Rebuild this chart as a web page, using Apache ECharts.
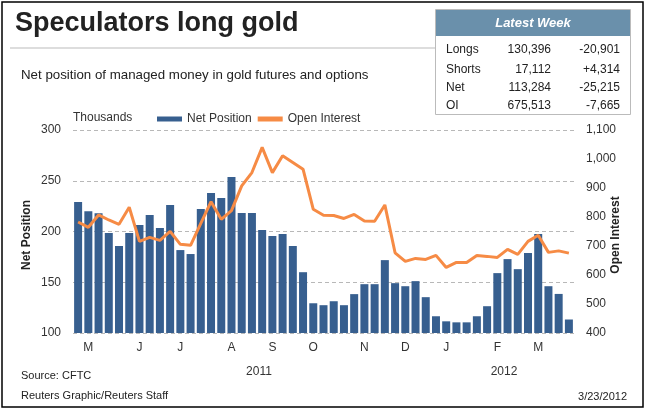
<!DOCTYPE html>
<html><head><meta charset="utf-8">
<script src="https://cdn.jsdelivr.net/npm/echarts@6/dist/echarts.min.js"></script>
<style>html,body{margin:0;padding:0;background:#fff}#c{width:645px;height:409px}</style>
</head><body><div id="c"></div>
<script>
// ---- data ----
const weeks = ['2011-04-19','2011-04-26','2011-05-03','2011-05-10','2011-05-17','2011-05-24','2011-05-31','2011-06-07','2011-06-14','2011-06-21','2011-06-28','2011-07-05','2011-07-12','2011-07-19','2011-07-26','2011-08-02','2011-08-09','2011-08-16','2011-08-23','2011-08-30','2011-09-06','2011-09-13','2011-09-20','2011-09-27','2011-10-04','2011-10-11','2011-10-18','2011-10-25','2011-11-01','2011-11-08','2011-11-15','2011-11-22','2011-11-29','2011-12-06','2011-12-13','2011-12-20','2011-12-27','2012-01-03','2012-01-10','2012-01-17','2012-01-24','2012-01-31','2012-02-07','2012-02-14','2012-02-21','2012-02-28','2012-03-06','2012-03-13','2012-03-20'];
const netPosition = [229,220,218,198.5,185.7,198.5,206.4,216.3,203.5,226.2,181.7,177.8,222.2,238,233,253.8,218.3,218.3,201.5,195.6,197.6,185.7,159.9,129.3,127.4,131.3,127.4,138.3,148.1,148.1,171.8,149.1,146.1,151.1,135.3,116.5,111.5,110.5,110.5,116.5,126.4,159,172.8,162.9,178.8,197.6,146.1,138.5,113.3];
const openInterest = [782.8,764.5,807,789.7,774.8,833.6,716,729.9,719.5,750.6,705.7,702.2,778,853,792,821.9,907.3,953.3,1040,953,1011,988,965,826.7,806,805,795,809,786,785.2,841.6,676.6,646.9,657.3,653.8,667.6,626.1,643.4,643.4,667.6,664.2,660.7,688.4,671.1,716,736.8,678,683.2,675.5];
const monthTickWeeks = ['2011-04-26','2011-05-31','2011-06-28','2011-08-02','2011-08-30','2011-09-27','2011-11-01','2011-11-29','2011-12-27','2012-01-31','2012-02-28'];
const monthTickLabels = ['M','J','J','A','S','O','N','D','J','F','M'];
const yearLabels = ['2011','2012'];
const leftTicks = {min:100, max:300, interval:50};
const rightTicks = {min:400, max:1100, interval:100};
const tableRows = ['Longs','Shorts','Net','OI'];
const tableValues = ['130,396','17,112','113,284','675,513'];
const tableChanges = ['-20,901','+4,314','-25,215','-7,665'];

// ---- chart ----
const FONT = "'Liberation Sans', Arial, sans-serif";
const chart = echarts.init(document.getElementById('c'), null, {renderer:'canvas'});
const fmt = v => v.toLocaleString('en-US');
const tickMap = {};
monthTickWeeks.forEach((w,i)=>{tickMap[w]=monthTickLabels[i];});

const graphics = [
  {type:'rect', shape:{x:2,y:2,width:641,height:405}, style:{fill:'none', stroke:'#000', lineWidth:1.5}, z:100},
  {type:'text', x:15, y:24, style:{text:'Speculators long gold', font:'bold 27px '+FONT, fill:'#222', verticalAlign:'middle'}},
  {type:'line', shape:{x1:10,y1:48,x2:436,y2:48}, style:{stroke:'#bbb', lineWidth:1}},
  {type:'text', x:21, y:75, style:{text:'Net position of managed money in gold futures and options', font:'13.3px '+FONT, fill:'#222', verticalAlign:'middle'}},
  {type:'text', x:73, y:118, style:{text:'Thousands', font:'12px '+FONT, fill:'#333', verticalAlign:'middle'}},
  {type:'text', x:27, y:235, rotation:Math.PI/2, style:{text:'Net Position', font:'bold 12px '+FONT, fill:'#222', align:'center', verticalAlign:'middle'}},
  {type:'text', x:616, y:235, rotation:Math.PI/2, style:{text:'Open Interest', font:'bold 12px '+FONT, fill:'#222', align:'center', verticalAlign:'middle'}},
  {type:'text', x:259, y:372, style:{text:yearLabels[0], font:'12px '+FONT, fill:'#333', align:'center', verticalAlign:'middle'}},
  {type:'text', x:504, y:372, style:{text:yearLabels[1], font:'12px '+FONT, fill:'#333', align:'center', verticalAlign:'middle'}},
  {type:'text', x:21, y:376, style:{text:'Source: CFTC', font:'11px '+FONT, fill:'#222', verticalAlign:'middle'}},
  {type:'text', x:21, y:396, style:{text:'Reuters Graphic/Reuters Staff', font:'11px '+FONT, fill:'#222', verticalAlign:'middle'}},
  {type:'text', x:627, y:397, style:{text:'3/23/2012', font:'11px '+FONT, fill:'#222', align:'right', verticalAlign:'middle'}},
  // table
  {type:'rect', shape:{x:435.5,y:9.5,width:195,height:105}, style:{fill:'#fff', stroke:'#bbb', lineWidth:1}},
  {type:'rect', shape:{x:436,y:10,width:194,height:26}, style:{fill:'#6a90ab'}},
  {type:'text', x:533, y:23, style:{text:'Latest Week', font:'italic bold 13px '+FONT, fill:'#fff', align:'center', verticalAlign:'middle'}}
];
const rowY = [50,70,88,106];
tableRows.forEach((r,i)=>{
  graphics.push({type:'text', x:446, y:rowY[i], style:{text:r, font:'12px '+FONT, fill:'#222', verticalAlign:'middle'}});
  graphics.push({type:'text', x:551, y:rowY[i], style:{text:tableValues[i], font:'12px '+FONT, fill:'#222', align:'right', verticalAlign:'middle'}});
  graphics.push({type:'text', x:620, y:rowY[i], style:{text:tableChanges[i], font:'12px '+FONT, fill:'#222', align:'right', verticalAlign:'middle'}});
});

chart.setOption({
  animation:false,
  backgroundColor:'#fff',
  textStyle:{fontFamily:FONT},
  grid:{left:73, right:71, top:130, bottom:76, containLabel:false},
  legend:{
    left:152, top:108, itemWidth:25, itemHeight:5, itemGap:6,
    icon:'rect',
    textStyle:{fontSize:12, color:'#333', fontFamily:FONT},
    data:['Net Position','Open Interest']
  },
  xAxis:{
    type:'category', data:weeks, boundaryGap:true,
    axisLine:{show:false}, axisTick:{show:false},
    axisLabel:{
      margin:9, fontSize:12, color:'#333',
      interval:(idx,val)=>tickMap[val]!==undefined,
      formatter:v=>tickMap[v]||''
    }
  },
  yAxis:[
    {type:'value', min:leftTicks.min, max:leftTicks.max, interval:leftTicks.interval,
     axisLine:{show:false}, axisTick:{show:false},
     axisLabel:{margin:12, fontSize:12, color:'#333'},
     splitLine:{show:true, lineStyle:{color:'#b8b8b8', type:[4,3], width:1}}},
    {type:'value', min:rightTicks.min, max:rightTicks.max, interval:rightTicks.interval, position:'right',
     axisLine:{show:false}, axisTick:{show:false},
     axisLabel:{margin:12, fontSize:12, color:'#333', formatter:v=>fmt(v)},
     splitLine:{show:false}}
  ],
  series:[
    {name:'Net Position', type:'bar', data:netPosition, yAxisIndex:0, barWidth:8,
     itemStyle:{color:'#375f8f'}},
    {name:'Open Interest', type:'line', data:openInterest, yAxisIndex:1, symbol:'none',
     lineStyle:{color:'#f68b45', width:3}, itemStyle:{color:'#f68b45'}, z:5}
  ],
  graphic:graphics
});
</script></body></html>
